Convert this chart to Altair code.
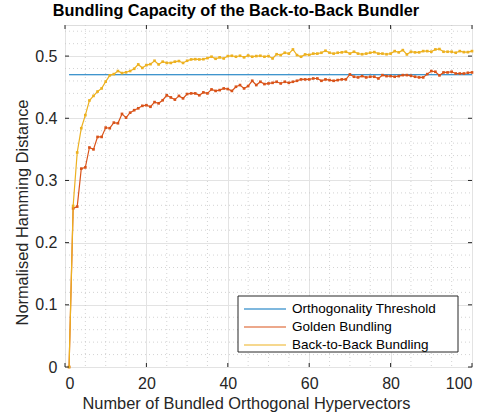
import altair as alt
import pandas as pd

# ---- data ----
golden = [0.0, 0.255, 0.258, 0.319, 0.321, 0.353, 0.350, 0.370, 0.370, 0.385,
          0.384, 0.393, 0.392, 0.407, 0.401, 0.409, 0.413, 0.416, 0.420, 0.421,
          0.4185, 0.426, 0.424, 0.429, 0.437, 0.4335, 0.430, 0.436, 0.432, 0.439,
          0.440, 0.440, 0.437, 0.4416, 0.440, 0.4464, 0.444, 0.4453, 0.448, 0.447,
          0.444, 0.4507, 0.4534, 0.448, 0.4518, 0.4603, 0.4534, 0.4587, 0.455, 0.456,
          0.457, 0.4587, 0.456, 0.4587, 0.457, 0.4587, 0.4603, 0.4625, 0.4625, 0.4625,
          0.464, 0.464, 0.4603, 0.4625, 0.4614, 0.4603, 0.4614, 0.4625, 0.4625, 0.4705,
          0.4668, 0.4657, 0.4678, 0.4657, 0.4668, 0.4668, 0.464, 0.4694, 0.4678, 0.4678,
          0.4668, 0.4678, 0.4694, 0.4694, 0.4684, 0.4668, 0.4657, 0.4657, 0.471, 0.4759,
          0.4748, 0.469, 0.4737, 0.4737, 0.4748, 0.472, 0.472, 0.472, 0.4732, 0.4737]
b2b = [0.0, 0.259, 0.345, 0.384, 0.405, 0.4286, 0.436, 0.443, 0.448, 0.459,
       0.469, 0.471, 0.476, 0.4727, 0.474, 0.476, 0.4796, 0.4866, 0.481, 0.4855,
       0.487, 0.4925, 0.4866, 0.491, 0.489, 0.489, 0.491, 0.492, 0.489, 0.4925,
       0.4946, 0.495, 0.4946, 0.495, 0.4968, 0.499, 0.4957, 0.498, 0.4962, 0.500,
       0.5005, 0.499, 0.5005, 0.498, 0.501, 0.499, 0.500, 0.5005, 0.499, 0.500,
       0.4962, 0.503, 0.5016, 0.5054, 0.504, 0.5107, 0.5016, 0.499, 0.5027, 0.502,
       0.504, 0.504, 0.5054, 0.5086, 0.5054, 0.504, 0.5054, 0.506, 0.507, 0.504,
       0.507, 0.504, 0.503, 0.504, 0.5054, 0.5064, 0.504, 0.504, 0.503, 0.504,
       0.508, 0.506, 0.5096, 0.5027, 0.507, 0.506, 0.506, 0.508, 0.508, 0.507,
       0.5107, 0.5113, 0.507, 0.507, 0.507, 0.5054, 0.508, 0.5064, 0.5064, 0.508]
n_vectors = list(range(1, 101))
threshold_x = [1, 100]
threshold_y = [0.47, 0.47]

series_names = ["Orthogonality Threshold", "Golden Bundling", "Back-to-Back Bundling"]
series_colors = ["#0072BD", "#D95319", "#EDB120"]

x_major = [0, 20, 40, 60, 80, 100]
x_minor = [v for v in range(0, 101, 5) if v % 20 != 0]
y_major = [0, 0.1, 0.2, 0.3, 0.4, 0.5]
y_minor = [round(0.02 * i, 2) for i in range(1, 28) if i % 5 != 0]

W, H = 407, 342
FONT = "Liberation Sans"
DARK = "#262626"

df_thr = pd.DataFrame({"x": threshold_x, "y": threshold_y, "series": series_names[0]})
df_gold = pd.DataFrame({"x": n_vectors, "y": golden, "series": series_names[1]})
df_b2b = pd.DataFrame({"x": n_vectors, "y": b2b, "series": series_names[2]})

xs = alt.Scale(domain=[0, 100], nice=False, zero=False)
ys = alt.Scale(domain=[0, 0.55], nice=False, zero=False)
cs = alt.Scale(domain=series_names, range=series_colors)

legend = alt.Legend(
    title=None, orient="none", legendX=173, legendY=271,
    symbolType="M-1,0H5", symbolSize=196, symbolStrokeWidth=1.2,
    symbolFillColor="transparent",
    labelFont=FONT, labelFontSize=13.5, labelColor="#000000",
    padding=5, rowPadding=3, labelOffset=33, labelLimit=400,
)

color_enc = alt.Color("series:N", scale=cs, legend=legend)

xax = alt.Axis(values=x_major, grid=True, gridColor="#e3e3e3", gridWidth=1,
               ticks=False, labelPadding=8, labelFontSize=16, labelFont=FONT,
               labelColor=DARK, title="Number of Bundled Orthogonal Hypervectors",
               titleFont=FONT, titleFontSize=16.4, titleFontWeight="normal",
               titleColor=DARK, titleX=181, titleY=41.5, titleAlign="center",
               titleBaseline="alphabetic", domain=False)
yax = alt.Axis(values=y_major, grid=True, gridColor="#e3e3e3", gridWidth=1,
               ticks=False, labelPadding=8, labelFontSize=16, labelFont=FONT,
               labelColor=DARK,
               labelExpr="datum.value == 0 ? '0' : format(datum.value, '.1f')",
               title="Normalised Hamming Distance", titleFont=FONT, titleFontSize=16.4,
               titleFontWeight="normal", titleColor=DARK, titleAngle=270,
               titleX=-38, titleY=187, titleAlign="center", titleBaseline="alphabetic",
               domain=False)

# minor grid
minor_x = alt.Chart(pd.DataFrame({"v": x_minor})).mark_rule(
    color="#c8c8c8", strokeWidth=0.8, strokeDash=[1, 3]
).encode(x=alt.X("v:Q", scale=xs, axis=xax), y=alt.value(0), y2=alt.value(H))
minor_y = alt.Chart(pd.DataFrame({"v": y_minor})).mark_rule(
    color="#c8c8c8", strokeWidth=0.8, strokeDash=[1, 3]
).encode(y=alt.Y("v:Q", scale=ys, axis=yax), x=alt.value(0), x2=alt.value(W))

# inward ticks
xt = pd.DataFrame({"v": x_major})
yt = pd.DataFrame({"v": y_major})
tick_b = alt.Chart(xt).mark_rule(color=DARK).encode(
    x=alt.X("v:Q", scale=xs), y=alt.value(H), y2=alt.value(H - 4))
tick_t = alt.Chart(xt).mark_rule(color=DARK).encode(
    x=alt.X("v:Q", scale=xs), y=alt.value(0), y2=alt.value(4))
tick_l = alt.Chart(yt).mark_rule(color=DARK).encode(
    y=alt.Y("v:Q", scale=ys), x=alt.value(0), x2=alt.value(4))
tick_r = alt.Chart(yt).mark_rule(color=DARK).encode(
    y=alt.Y("v:Q", scale=ys), x=alt.value(W), x2=alt.value(W - 4))

# legend frame (white box with dark border)
frame = alt.Chart(pd.DataFrame({"k": [0]})).mark_rect(
    fill="white", stroke=DARK, strokeWidth=1
).encode(x=alt.value(173), x2=alt.value(393), y=alt.value(271), y2=alt.value(327))

def line_layer(df, with_points):
    base = alt.Chart(df).encode(
        x=alt.X("x:Q", scale=xs), y=alt.Y("y:Q", scale=ys), color=color_enc)
    ln = base.mark_line(strokeWidth=1.2)
    if with_points:
        pts = base.mark_point(filled=True, size=7, opacity=1, shape="square")
        return ln + pts
    return ln

chart = alt.layer(
    minor_x, minor_y,
    line_layer(df_thr, False),
    line_layer(df_gold, True),
    line_layer(df_b2b, True),
    tick_b, tick_t, tick_l, tick_r,
    frame,
).properties(
    width=W, height=H,
    title=alt.Title("Bundling Capacity of the Back-to-Back Bundler", font=FONT,
                    fontSize=16.3, fontWeight="bold", color="#000000", offset=5,
                    anchor="middle", dx=-32.5),
    autosize=alt.AutoSizeParams(type="none"),
    padding={"left": 65, "top": 25, "right": 19, "bottom": 49},
).configure_view(stroke=DARK, strokeWidth=1).configure(background="white")

chart.save("out.html", embed_options={"renderer": "svg", "actions": False})
